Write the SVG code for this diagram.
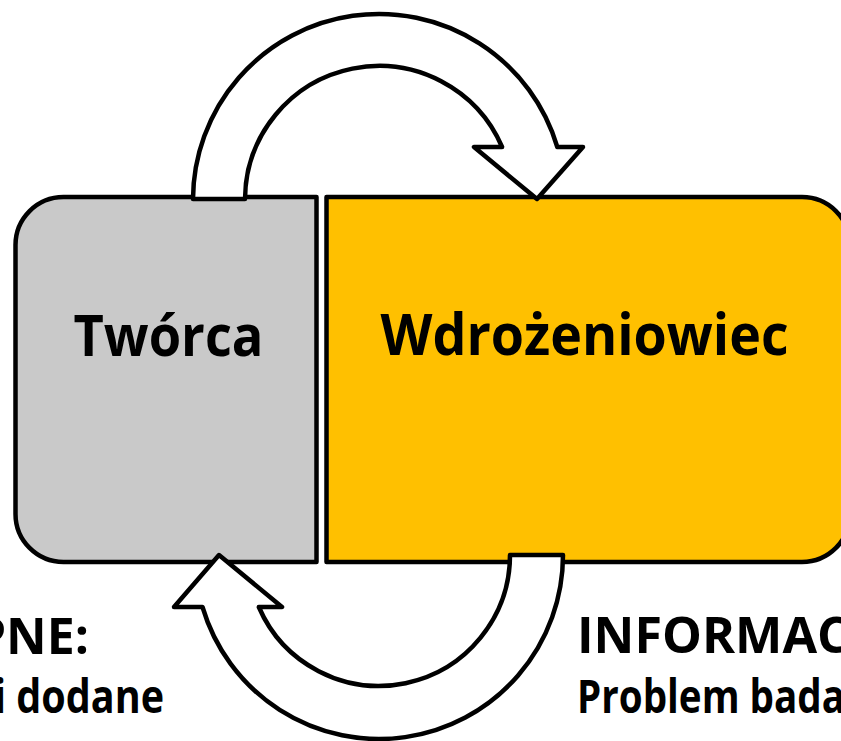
<svg xmlns="http://www.w3.org/2000/svg" width="841" height="741" viewBox="0 0 841 741">
  <style>
    .box { stroke: #000; stroke-width: 4.5; stroke-linejoin: round; }
    .arrow { fill: #fff; stroke: #000; stroke-width: 4.5; stroke-linejoin: round; }
    .title { font-family: "Open Sans", "Liberation Sans", sans-serif; font-weight: 700; font-size: 57px; fill: #000; }
    .head { font-family: "Open Sans", "Liberation Sans", sans-serif; font-weight: 700; font-size: 50px; fill: #000; }
    .sub { font-family: "Open Sans", "Liberation Sans", sans-serif; font-weight: 700; font-size: 46px; fill: #000; }
  </style>
  <rect x="0" y="0" width="841" height="741" fill="#fff"/>
  <g id="tworca">
    <path class="box" fill="#C9C9C9" d="M316.5,197 H63.5 A48,48 0 0 0 15.5,245 V514 A48,48 0 0 0 63.5,562 H316.5 Z"/>
    <text class="title" x="168.5" y="356" text-anchor="middle" textLength="190" lengthAdjust="spacingAndGlyphs">Twórca</text>
  </g>
  <g id="wdrozeniowiec">
    <path class="box" fill="#FFC000" d="M326.5,197 H802 A48,48 0 0 1 850,245 V514 A48,48 0 0 1 802,562 H326.5 Z"/>
    <text class="title" x="584.5" y="355" text-anchor="middle" textLength="408" lengthAdjust="spacingAndGlyphs">Wdrożeniowiec</text>
  </g>
  <g id="connectors">
    <path class="arrow" d="M193,199 A186,186 0 0 1 557.3,147 L583,147 L537,199 L474,147 L502.1,147 A134,134 0 0 0 245,199 Z"/>
    <path class="arrow" d="M563,555 A184,184 0 0 1 202.5,607 L174,607 L219,555 L282,607 L258.8,607 A131,131 0 0 0 510,555 Z"/>
  </g>
  <g id="left-text">
    <text class="head" x="89" y="654" text-anchor="end">PNE:</text>
    <text class="sub" x="164" y="713" text-anchor="end" textLength="170" lengthAdjust="spacingAndGlyphs">i dodane</text>
  </g>
  <g id="right-text">
    <text class="head" x="577" y="653" textLength="272" lengthAdjust="spacingAndGlyphs">INFORMAC</text>
    <text class="sub" x="577" y="713" textLength="268" lengthAdjust="spacingAndGlyphs">Problem bada</text>
  </g>
</svg>
